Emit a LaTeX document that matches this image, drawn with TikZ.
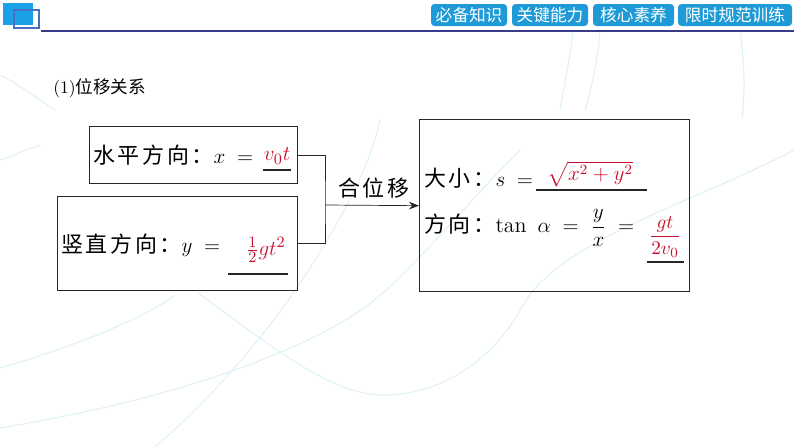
\documentclass[tikz,border=0pt]{standalone}
\usepackage{fontspec}
\usepackage{amsmath}
\usepackage{tikz}
\usetikzlibrary{arrows.meta,positioning}
\newfontfamily\cjk[LetterSpace=12]{Noto Sans CJK SC}
\newfontfamily\cjktab{Noto Sans CJK SC}
\definecolor{tabblue}{RGB}{30,154,214}
\definecolor{squareblue}{RGB}{26,160,230}
\definecolor{frameblue}{RGB}{74,111,192}
\definecolor{rulenavy}{RGB}{58,58,138}
\definecolor{answerred}{RGB}{200,16,46}
\definecolor{swirl}{RGB}{222,241,245}

\begin{document}
\begin{tikzpicture}[
x=0.02cm, y=-0.02cm,
panel/.style={draw=black!85, thick, anchor=north west, inner sep=0pt},
tab/.style={rounded corners=2pt, fill=tabblue, text=white, font=\cjktab\fontsize{9.5}{11}\selectfont, minimum height=0.44cm, inner sep=0pt},
lbl/.style={font=\cjk\fontsize{12.5}{14}\selectfont, inner sep=0pt},
ans/.style={text=answerred, font=\fontsize{13}{15}\selectfont, inner sep=0pt},
blank/.style={thick, draw=black!85},
arrow/.style={-{Stealth[length=2mm]}, draw=black!85},
bg/.style={draw=swirl, line width=0.6pt}
]
\useasboundingbox (0,0) rectangle (794,447);
% faint background swirls
\draw[bg] (0,428) .. controls (200,395) and (330,340) .. (383,293) .. controls (430,250) and (470,200) .. (520,150);
\draw[bg] (0,368) .. controls (80,345) and (150,315) .. (175,295);
\draw[bg] (155,447) .. controls (215,395) and (260,340) .. (292,295) .. controls (330,240) and (370,170) .. (380,120);
\draw[bg] (198,293) .. controls (270,345) and (330,395) .. (383,395) .. controls (450,395) and (500,350) .. (523,305) .. controls (560,240) and (700,200) .. (794,150);
\draw[bg] (0,75) .. controls (20,85) and (40,100) .. (55,110);
\draw[bg] (0,160) .. controls (15,155) and (25,150) .. (40,145);
\draw[bg] (573,30) .. controls (570,60) and (565,80) .. (560,110);
\draw[bg] (600,30) .. controls (598,60) and (592,85) .. (585,110);
\draw[bg] (740,30) .. controls (745,70) and (745,90) .. (742,118);

% header
\fill[squareblue] (3,3) rectangle (33,25);
\draw[frameblue, thick] (14,10) rectangle (39,28);
\draw[rulenavy, thick] (41,31) -- (794,31);
\node[tab, minimum width=1.52cm] (tabA) at (469,15) {必备知识};
\node[tab, minimum width=1.52cm] (tabB) at (550,15) {关键能力};
\node[tab, minimum width=1.62cm] (tabC) at (633.5,15) {核心素养};
\node[tab, minimum width=2.28cm] (tabD) at (735,15) {限时规范训练};

\node[font=\fontsize{10}{12}\selectfont, anchor=west, inner sep=0pt] (title) at (53,88) {(1){\cjktab 位移关系}};

% left boxes
\node[panel, minimum width=4.16cm, minimum height=1.14cm] (horiz) at (89,126) {};
\node[panel, minimum width=4.8cm, minimum height=1.88cm] (vert) at (57,196) {};
\node[lbl, anchor=west] (horizTxt) at (93,155) {水平方向：$x\;=$};
\node[ans] (horizAns) at (277,156) {$v_0t$};
\draw[blank] (263,170) -- (291,170);
\node[lbl, anchor=west] (vertTxt) at (61,245) {竖直方向：$y\;=$};
\node[ans] (vertAns) at (266,250) {$\frac{1}{2}gt^2$};
\draw[blank] (228,274) -- (288,274);

% result box
\node[panel, minimum width=5.4cm, minimum height=3.44cm] (res) at (419,119) {};
\node[lbl, anchor=west] (sizeTxt) at (424,178) {大小：$s\;=$};
\node[ans, font=\fontsize{12}{14}\selectfont] (sizeAns) at (590,174) {$\sqrt{x^2+y^2}$};
\draw[blank] (536,190) -- (647,190);
\node[lbl, anchor=west] (dirTxt) at (424,228) {方向：$\tan\ \alpha\;=\;\dfrac{y}{x}\;=$};
\node[ans, font=\fontsize{11}{13}\selectfont] (dirAns) at (665,237) {$\dfrac{gt}{2v_0}$};
\draw[blank] (647,262) -- (684,262);

% connectors
\draw[black!85] (horiz.east) -| (325,205) |- (vert.east);
\coordinate (junc) at (325,205);
\draw[arrow] (junc) -- (res.west);
\node[lbl, above=0.12cm of junc, anchor=south west, xshift=0.26cm] (sum) {合位移};
\end{tikzpicture}
\end{document}
